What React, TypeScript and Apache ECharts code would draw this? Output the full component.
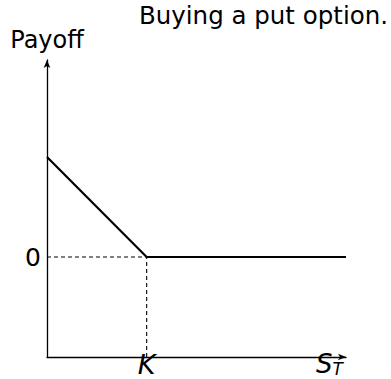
import React, { useEffect, useRef } from "react";
import * as echarts from "echarts";

const payoffX = [0, 1, 3];
const payoffY = [1, 0, 0];
const strike = 1;
const zeroLevel = 0;
const xRange = [0, 3];
const yRange = [-1, 1.97];
const titleText = "Buying a put option.";
const yName = "Payoff";

const FONT = "'DejaVu Sans', sans-serif";

export default function App() {
  const ref = useRef<HTMLDivElement>(null);
  useEffect(() => {
    if (!ref.current) return;
    const chart = echarts.init(ref.current, null, { renderer: "svg" });
    const payoff = payoffX.map((x, i) => [x, payoffY[i]]);
    chart.setOption({
      animation: false,
      title: {
        text: titleText,
        right: 3,
        top: 3,
        padding: 0,
        textStyle: { fontFamily: FONT, fontSize: 24.5, fontWeight: "normal", color: "#000" },
      },
      grid: { left: 47, right: 45, top: 60, bottom: 22, outerBoundsMode: "none", containLabel: false },
      xAxis: {
        type: "value",
        min: xRange[0],
        max: xRange[1],
        splitLine: { show: false },
        axisTick: { show: false },
        axisLine: {
          onZero: false,
          symbol: ["none", "arrow"],
          symbolSize: [5, 8],
          lineStyle: { color: "#000", width: 1.3 },
        },
        axisLabel: {
          customValues: [strike],
          formatter: () => "K",
          fontFamily: FONT,
          fontStyle: "italic",
          fontSize: 27,
          color: "#000",
          margin: -6,
        },
        name: "{s|S}{t|T}",
        nameLocation: "end",
        nameGap: -30,
        nameTextStyle: {
          verticalAlign: "top",
          padding: [-6, 0, 0, 0],
          rich: {
            s: { fontFamily: FONT, fontStyle: "italic", fontSize: 26, color: "#000" },
            t: { fontFamily: FONT, fontStyle: "italic", fontSize: 17, color: "#000", padding: [9, 0, 0, 0] },
          },
        },
      },
      yAxis: {
        type: "value",
        min: yRange[0],
        max: yRange[1],
        splitLine: { show: false },
        axisTick: { show: false },
        axisLine: {
          onZero: false,
          symbol: ["none", "arrow"],
          symbolSize: [5, 8],
          lineStyle: { color: "#000", width: 1.3 },
        },
        axisLabel: {
          customValues: [zeroLevel],
          formatter: () => "0",
          fontFamily: FONT,
          fontSize: 25,
          color: "#000",
          margin: 6,
        },
        name: yName,
        nameLocation: "end",
        nameGap: 8,
        nameTextStyle: { fontFamily: FONT, fontSize: 24, color: "#000", align: "center" },
      },
      series: [
        {
          type: "line",
          data: [[xRange[0], zeroLevel], [strike, zeroLevel]],
          symbol: "none",
          lineStyle: { color: "#000", width: 1.1, type: [4, 3] },
          silent: true,
        },
        {
          type: "line",
          data: [[strike, yRange[0]], [strike, zeroLevel]],
          symbol: "none",
          lineStyle: { color: "#000", width: 1.1, type: [4, 3] },
          silent: true,
        },
        {
          type: "line",
          data: payoff,
          symbol: "none",
          lineStyle: { color: "#000", width: 2.2 },
        },
      ],
    });
    return () => chart.dispose();
  }, []);
  return <div ref={ref} style={{ width: 391, height: 379, position: "absolute", left: 0, top: 0 }} />;
}
